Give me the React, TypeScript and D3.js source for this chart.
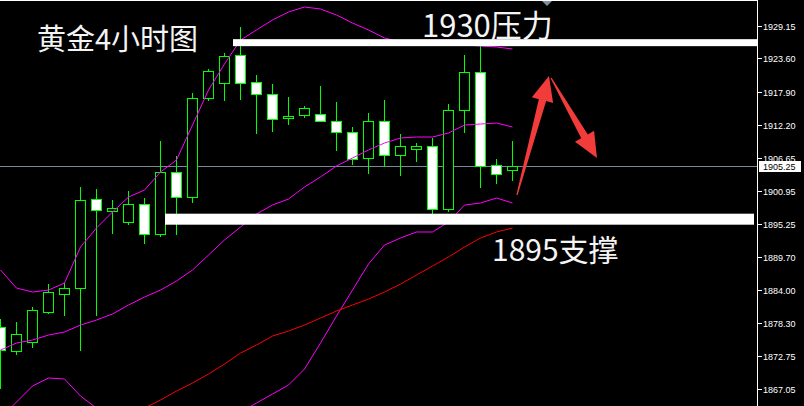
import { useEffect, useRef } from "react";
import * as d3 from "d3";

// 4h gold candles (oldest first)
const candleOpen = [1877.65, 1873.55, 1875.09, 1880.22, 1883.3, 1884.32, 1899.55, 1897.5, 1895.62, 1898.7, 1893.56, 1904.17, 1899.89, 1916.83, 1919.4, 1924.19, 1919.57, 1917.52, 1913.41, 1913.92, 1914.09, 1912.9, 1911.01, 1906.57, 1912.9, 1907.08, 1908.11, 1908.62, 1897.84, 1914.78, 1921.28, 1905.37, 1904.51];
const candleHigh = [1879.02, 1878.51, 1881.07, 1885.01, 1885.18, 1901.61, 1901.26, 1899.38, 1900.92, 1899.72, 1909.47, 1906.91, 1917.69, 1921.79, 1924.53, 1928.98, 1920.77, 1919.23, 1917.0, 1915.46, 1918.89, 1916.15, 1911.87, 1914.27, 1916.49, 1910.67, 1909.13, 1909.99, 1915.81, 1924.19, 1925.73, 1906.4, 1909.47];
const candleLow = [1867.22, 1873.03, 1874.23, 1880.05, 1879.7, 1873.72, 1879.7, 1893.73, 1895.27, 1892.02, 1893.22, 1893.56, 1899.04, 1916.49, 1916.49, 1916.66, 1910.84, 1911.19, 1912.38, 1913.58, 1912.9, 1907.94, 1905.54, 1904.0, 1905.2, 1903.66, 1906.05, 1897.16, 1897.5, 1911.01, 1901.61, 1902.29, 1902.8];
const candleClose = [1873.72, 1876.45, 1880.56, 1883.64, 1884.32, 1899.38, 1897.67, 1898.01, 1898.7, 1893.56, 1904.17, 1899.89, 1916.83, 1921.45, 1924.02, 1919.4, 1917.52, 1913.24, 1913.75, 1915.12, 1912.9, 1911.01, 1906.4, 1912.9, 1907.08, 1908.62, 1908.62, 1897.84, 1914.78, 1921.28, 1905.2, 1903.83, 1905.25];

// Bollinger bands + moving average (null = off screen)
const bbUpper = [1887.4, 1884.32, 1883.64, 1883.98, 1885.18, 1891.34, 1894.59, 1897.33, 1899.89, 1901.09, 1904.17, 1906.22, 1912.21, 1918.2, 1922.65, 1926.76, 1928.47, 1930.18, 1931.55, 1932.4, 1932.06, 1931.03, 1929.66, 1928.47, 1927.1, 1926.41, 1926.24, 1926.07, 1925.9, 1925.9, 1925.73, 1925.56, 1925.22];
const bbMiddle = [1873.72, 1874.91, 1875.43, 1876.28, 1876.8, 1877.99, 1878.85, 1879.88, 1881.42, 1882.78, 1883.98, 1885.52, 1887.4, 1889.97, 1892.54, 1894.76, 1896.99, 1898.53, 1899.55, 1901.61, 1903.32, 1905.2, 1906.57, 1907.94, 1909.13, 1909.99, 1910.16, 1910.16, 1910.84, 1912.21, 1912.38, 1912.55, 1911.87];
const bbLower: (number | null)[] = [1862.08, 1864.82, 1867.56, 1868.93, 1868.76, 1865.85, 1863.79, null, null, null, null, null, null, null, null, 1863.11, 1864.65, 1866.19, 1867.73, 1870.47, 1874.91, 1879.53, 1883.98, 1888.43, 1891.68, 1892.88, 1893.91, 1893.91, 1895.62, 1898.52, 1898.87, 1899.72, 1898.87];
const maRed: (number | null)[] = [null, null, null, null, null, null, null, null, 1862.42, 1863.79, 1865.16, 1866.7, 1868.07, 1869.61, 1871.32, 1873.2, 1874.57, 1876.11, 1876.97, 1877.99, 1879.19, 1880.39, 1881.42, 1882.44, 1883.64, 1885.01, 1886.55, 1888.09, 1889.63, 1891.34, 1892.88, 1893.91, 1894.59];

const priceTicks = [1929.15, 1923.6, 1917.9, 1912.2, 1906.65, 1900.95, 1895.25, 1889.7, 1884.0, 1878.3, 1872.75, 1867.05];
const lastPrice = 1905.25;

// hand-drawn annotations
const resistanceLevel = 1926.3;
const supportLevel = 1896.1;
const arrowUp = { tail: [32.28, 1900.24], tip: [34.28, 1920.6] };
const arrowDown = { tail: [34.41, 1920.25], tip: [37.28, 1906.57] };

const W = 804;
const H = 406;
const axisX = 757;

export default function App() {
  const svgRef = useRef<SVGSVGElement>(null);

  useEffect(() => {
    document.body.style.margin = "0";
    document.body.style.background = "#000";
    if (!svgRef.current) return;
    const svg = d3.select(svgRef.current);
    svg.selectAll("*").remove();

    const x = d3.scaleLinear().domain([0, 32]).range([0.5, 512.5]);
    const y = d3.scaleLinear().domain([1867.05, 1929.15]).range([389, 26]);
    const snap = (v: number) => Math.round(v) + 0.5;

    svg.append("rect").attr("width", W).attr("height", H).attr("fill", "#000");

    svg
      .append("defs")
      .append("clipPath")
      .attr("id", "plot")
      .append("rect")
      .attr("width", axisX)
      .attr("height", H);

    const plot = svg.append("g").attr("clip-path", "url(#plot)");

    // current price line
    plot
      .append("line")
      .attr("x1", 0)
      .attr("x2", axisX)
      .attr("y1", snap(y(lastPrice)))
      .attr("y2", snap(y(lastPrice)))
      .attr("stroke", "#778899")
      .attr("stroke-width", 1);

    const idx = d3.range(candleOpen.length);

    // wicks
    plot
      .selectAll(".wick")
      .data(idx)
      .join("line")
      .attr("class", "wick")
      .attr("x1", (i) => x(i))
      .attr("x2", (i) => x(i))
      .attr("y1", (i) => snap(y(candleHigh[i])) - 0.5)
      .attr("y2", (i) => snap(y(candleLow[i])) + 0.5)
      .attr("stroke", "#00ff00")
      .attr("stroke-width", 1);

    // bodies: hollow = up, white = down
    plot
      .selectAll(".body")
      .data(idx)
      .join("rect")
      .attr("class", "body")
      .attr("x", (i) => x(i) - 5)
      .attr("width", 10)
      .attr("y", (i) => snap(y(Math.max(candleOpen[i], candleClose[i]))))
      .attr("height", (i) =>
        Math.max(Math.round(y(Math.min(candleOpen[i], candleClose[i]))) - Math.round(y(Math.max(candleOpen[i], candleClose[i]))), 1)
      )
      .attr("fill", (i) => (candleClose[i] >= candleOpen[i] ? "#000" : "#fff"))
      .attr("stroke", "#00ff00")
      .attr("stroke-width", 1);

    const line = d3
      .line<number | null>()
      .defined((d) => d !== null)
      .x((_, i) => x(i))
      .y((d) => y(d as number));

    [bbUpper, bbMiddle, bbLower].forEach((s) => {
      plot.append("path").datum(s).attr("d", line).attr("fill", "none").attr("stroke", "#ff00ff").attr("stroke-width", 1);
    });
    plot.append("path").datum(maRed).attr("d", line).attr("fill", "none").attr("stroke", "#ff0000").attr("stroke-width", 1);

    // resistance / support bars
    svg.append("rect").attr("x", 233).attr("width", axisX - 233).attr("y", y(resistanceLevel) - 3.5).attr("height", 7).attr("fill", "#fff");
    svg.append("rect").attr("x", 165).attr("width", 754 - 165).attr("y", y(supportLevel) - 5.5).attr("height", 11).attr("fill", "#fff");

    // arrows
    const arrow = (a: { tail: number[]; tip: number[] }) => {
      const tx = x(a.tail[0]), ty = y(a.tail[1]);
      const px = x(a.tip[0]), py = y(a.tip[1]);
      const len = Math.hypot(px - tx, py - ty);
      const ux = (px - tx) / len, uy = (py - ty) / len;
      const nx = -uy, ny = ux;
      const bx = px - ux * 25, by = py - uy * 25;
      const pts = [
        [tx + nx * 0.6, ty + ny * 0.6],
        [bx + nx * 3.8, by + ny * 3.8],
        [bx + nx * 11, by + ny * 11],
        [px, py],
        [bx - nx * 11, by - ny * 11],
        [bx - nx * 3.8, by - ny * 3.8],
        [tx - nx * 0.6, ty - ny * 0.6],
      ];
      svg.append("polygon").attr("points", pts.map((p) => p.join(",")).join(" ")).attr("fill", "#f23b3b");
    };
    arrow(arrowUp);
    arrow(arrowDown);

    // top marker
    svg.append("polygon").attr("points", "541,0 553,0 547,6").attr("fill", "#8090a0");

    // axis
    svg.append("line").attr("x1", 0).attr("x2", axisX).attr("y1", 0.5).attr("y2", 0.5).attr("stroke", "#fff");
    svg.append("line").attr("x1", axisX + 0.5).attr("x2", axisX + 0.5).attr("y1", 0).attr("y2", H).attr("stroke", "#fff");

    const ticks = svg.append("g");
    priceTicks.forEach((t) => {
      const ty = snap(y(t));
      ticks.append("line").attr("x1", axisX + 1).attr("x2", axisX + 5).attr("y1", ty).attr("y2", ty).attr("stroke", "#fff");
      ticks
        .append("text")
        .attr("x", 763)
        .attr("y", ty)
        .attr("dy", "0.36em")
        .attr("fill", "#fff")
        .style("font-family", "'Liberation Sans', Arial, sans-serif")
        .style("font-size", "9px")
        .text(t.toFixed(2));
    });

    const ly = snap(y(lastPrice));
    svg.append("rect").attr("x", 759).attr("y", ly - 5.5).attr("width", 42).attr("height", 11).attr("fill", "#fff");
    svg
      .append("text")
      .attr("x", 763)
      .attr("y", ly)
      .attr("dy", "0.36em")
      .attr("fill", "#000")
      .style("font-family", "'Liberation Sans', Arial, sans-serif")
      .style("font-size", "9px")
      .text(lastPrice.toFixed(2));

    // labels
    const label = (t: string, lx: number, by: number, size: number) =>
      svg
        .append("text")
        .attr("x", lx)
        .attr("y", by)
        .attr("fill", "#f4f4f4")
        .style("font-family", "'Noto Sans CJK SC', 'Noto Sans', sans-serif")
        .style("font-size", `${size}px`)
        .text(t);
    label("黄金4小时图", 37, 50, 29);
    label("1930压力", 422, 37, 31);
    label("1895支撑", 492, 261, 30);
  }, []);

  return <svg ref={svgRef} width={W} height={H} style={{ display: "block", background: "#000" }} />;
}
